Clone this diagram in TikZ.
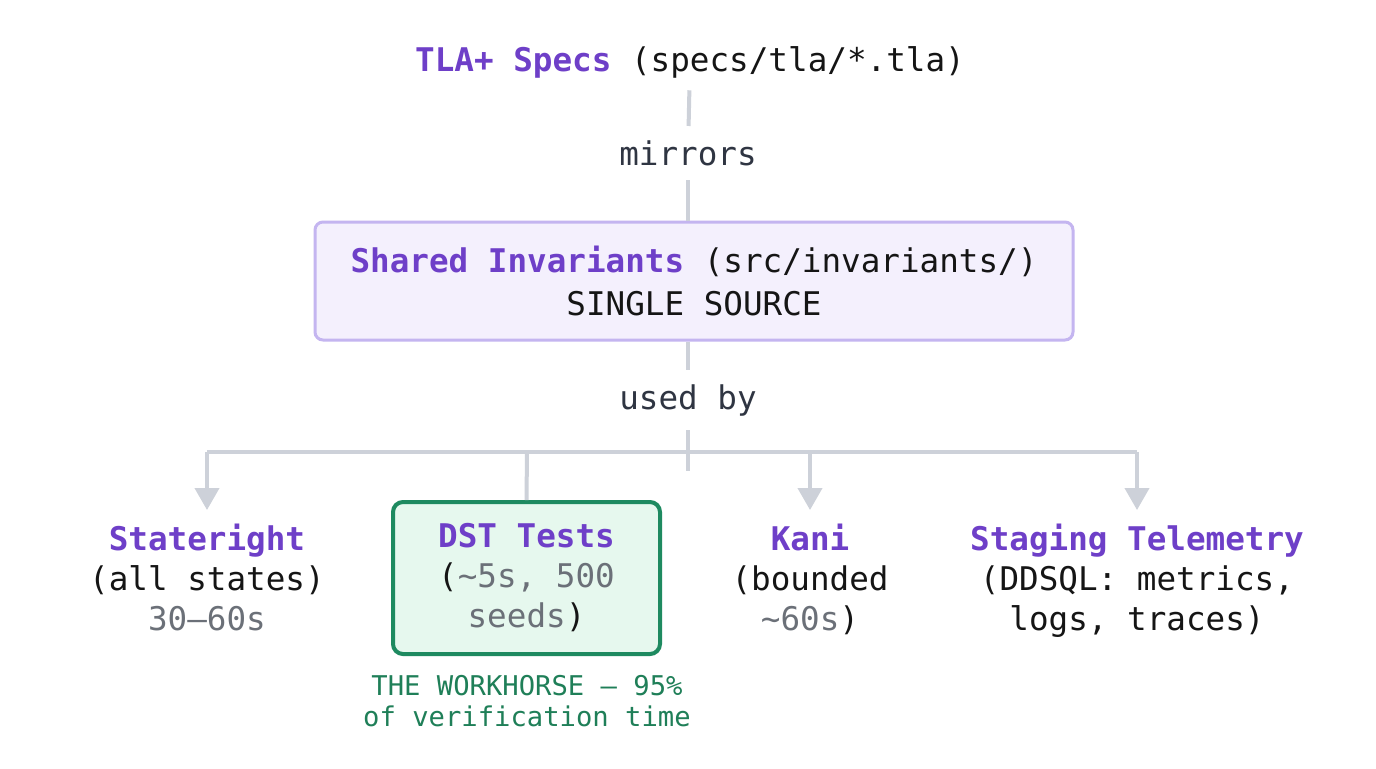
\documentclass[tikz,border=0pt]{standalone}
\usepackage{fontspec}
\setmainfont{DejaVu Sans Mono}
\setmonofont{DejaVu Sans Mono}
\usetikzlibrary{arrows.meta}
\definecolor{purp}{RGB}{110,63,200}
\definecolor{lavb}{RGB}{196,181,240}
\definecolor{lavf}{RGB}{244,240,253}
\definecolor{grnb}{RGB}{30,138,96}
\definecolor{grnf}{RGB}{230,248,238}
\definecolor{grnt}{RGB}{31,127,88}
\definecolor{lineg}{RGB}{205,209,217}
\definecolor{txtg}{RGB}{107,112,120}
\definecolor{slate}{RGB}{47,53,66}
\definecolor{blk}{RGB}{21,21,21}
\tikzset{
  big/.style={font=\fontsize{16.3}{20}\selectfont, text=blk, align=center},
  conn/.style={draw=lineg, line width=2pt},
  arr/.style={conn, -{Triangle[width=12pt,length=11pt]}},
  lbl/.style={big, text=slate, inner sep=0pt},
}
\newcommand{\hl}[1]{{\color{purp}\bfseries #1}}
\newcommand{\gr}[1]{{\color{txtg}#1}}
\begin{document}
\begin{tikzpicture}[x=0.5pt,y=-0.5pt]
\useasboundingbox[fill=white] (0,0) rectangle (1376,768);
% nodes
\node[big, inner ysep=6pt] (title) at (690,62) {\hl{TLA+ Specs} (specs/tla/*.tla)};
\node[lbl, inner ysep=7pt] (mirrors) at (688,153) {mirrors};
\node[big, draw=lavb, fill=lavf, line width=1.5pt, rounded corners=4pt,
      minimum width=379pt, minimum height=59pt,
      font=\fontsize{16.3}{21.5}\selectfont] (inv) at (694,281)
      {\hl{Shared Invariants} (src/invariants/)\\SINGLE SOURCE};
\node[lbl, inner ysep=7pt] (used) at (688,400) {used by};
\coordinate (stub) at (688,471);
\coordinate (L) at (207,452);
\coordinate (R) at (1137,452);
\coordinate (Cd) at (527,452);
\coordinate (Ck) at (810,452);
\node[big, anchor=north, inner ysep=7pt] (state) at (207,510)
      {\hl{Stateright}\\(all states)\\\gr{30–60s}};
\node[big, draw=grnb, fill=grnf, line width=2pt, rounded corners=5pt,
      minimum width=133.5pt, minimum height=76pt] (dst) at (526.5,578)
      {\hl{DST Tests}\\(\gr{\textasciitilde5s, 500}\\\gr{seeds})};
\node[big, anchor=north, inner ysep=7pt] (kani) at (810,510)
      {\hl{Kani}\\(bounded\\\gr{\textasciitilde60s})};
\node[big, anchor=north, inner ysep=7pt] (stag) at (1137,510)
      {\hl{Staging Telemetry}\\(DDSQL: metrics,\\logs, traces)};
\node[align=center, text=grnt, font=\fontsize{13.6}{15.5}\selectfont] (work) at (527,701.5)
      {THE WORKHORSE — 95\%\\of verification time};
% connectors
\draw[conn] (title) -- (mirrors);
\draw[conn] (mirrors) -- (mirrors |- inv.north);
\draw[conn] (mirrors |- inv.south) -- (used);
\draw[conn] (used) -- (stub);
\draw[conn] (L) -- (R);
\draw[arr] (L) -- (state.north);
\draw[conn] (Cd) -- (dst.north);
\draw[arr] (Ck) -- (kani.north);
\draw[arr] (R) -- (stag.north);
\end{tikzpicture}
\end{document}
